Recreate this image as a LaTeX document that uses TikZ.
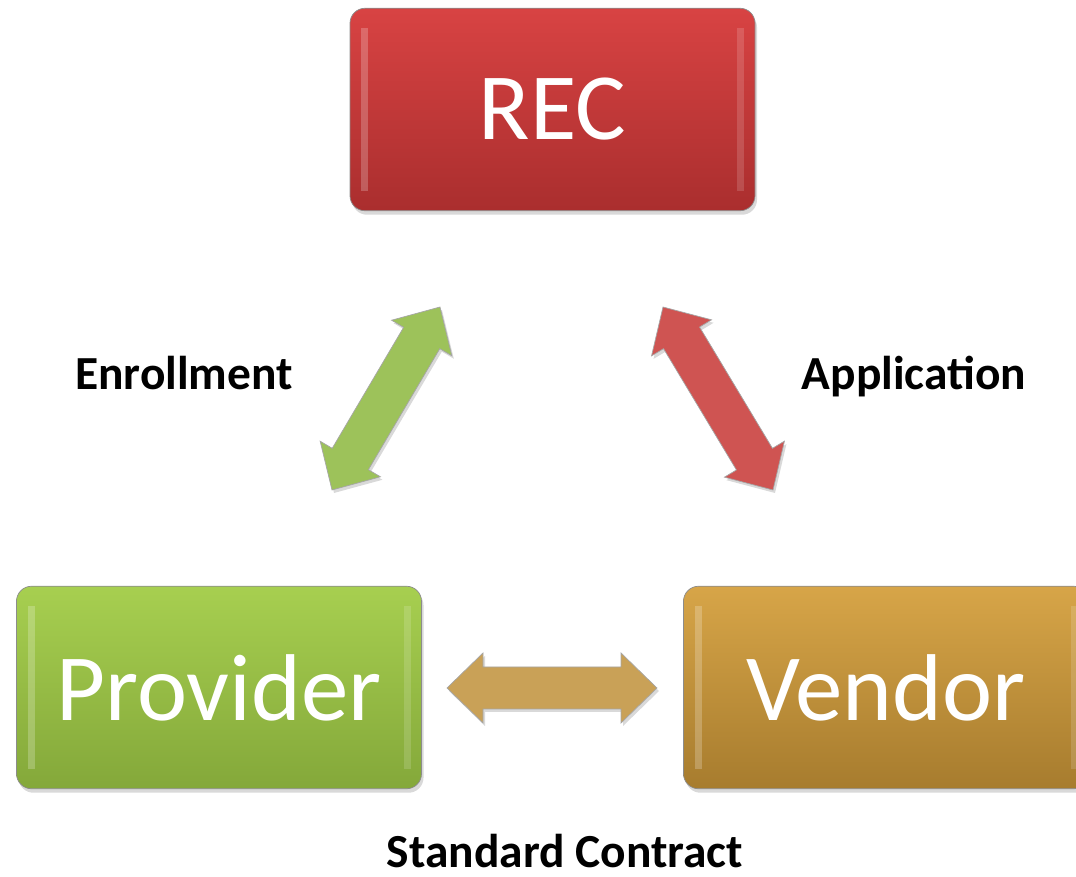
\documentclass[tikz,border=0pt]{standalone}
\usepackage{fontspec}
\setmainfont{Carlito}
\usetikzlibrary{calc,shadows}

\definecolor{recTop}{HTML}{D84343}
\definecolor{recBot}{HTML}{AA2E2E}
\definecolor{provTop}{HTML}{A7CF50}
\definecolor{provBot}{HTML}{84A83A}
\definecolor{vendTop}{HTML}{D7A548}
\definecolor{vendBot}{HTML}{A77C2E}
\definecolor{enrollArr}{HTML}{9DC25A}
\definecolor{applArr}{HTML}{CF5452}
\definecolor{contrArr}{HTML}{C9A157}

\tikzset{
  box/.style={rounded corners=0.3cm, minimum width=8.1cm, minimum height=4.05cm,
    draw=black!45, thin, text=white, font=\fontsize{54}{60}\selectfont,
    drop shadow={opacity=0.3, shadow xshift=0.04cm, shadow yshift=-0.08cm},
    path picture={
      \fill[white, opacity=0.22, sharp corners] ([xshift=0.22cm,yshift=-0.4cm]path picture bounding box.north west) rectangle ++(0.14,-3.25);
      \fill[white, opacity=0.15, sharp corners] ([xshift=-0.22cm,yshift=-0.4cm]path picture bounding box.north east) rectangle ++(-0.14,-3.25);
    }},
  lab/.style={font=\bfseries\fontsize{27}{30}\selectfont, anchor=base},
  dblarrow/.style={draw=black!35, thin,
    drop shadow={opacity=0.3, shadow xshift=0.04cm, shadow yshift=-0.06cm},
    to path={
      (\tikztostart)
      -- ($(\tikztostart)!0.72cm!(\tikztotarget)!0.7cm!90:(\tikztotarget)$)
      -- ($(\tikztostart)!0.72cm!(\tikztotarget)!0.42cm!90:(\tikztotarget)$)
      -- ($(\tikztotarget)!0.72cm!(\tikztostart)!0.42cm!-90:(\tikztostart)$)
      -- ($(\tikztotarget)!0.72cm!(\tikztostart)!0.7cm!-90:(\tikztostart)$)
      -- (\tikztotarget)
      -- ($(\tikztotarget)!0.72cm!(\tikztostart)!0.7cm!90:(\tikztostart)$)
      -- ($(\tikztotarget)!0.72cm!(\tikztostart)!0.42cm!90:(\tikztostart)$)
      -- ($(\tikztostart)!0.72cm!(\tikztotarget)!0.42cm!-90:(\tikztotarget)$)
      -- ($(\tikztostart)!0.72cm!(\tikztotarget)!0.7cm!-90:(\tikztotarget)$)
      -- cycle}}
}

\begin{document}
\begin{tikzpicture}
    \clip (0,0) rectangle (21.52,17.54);

    % Boxes
    \node[box, top color=recTop, bottom color=recBot] (rec) at (11.05,15.35) {REC};
    \node[box, top color=provTop, bottom color=provBot] (prov) at (4.38,3.79) {Provider};
    \node[box, top color=vendTop, bottom color=vendBot] (vend) at (17.72,3.79) {Vendor};

    % Arrow ends
    \coordinate (enrollA) at (6.64,7.74);
    \coordinate (enrollB) at (8.80,11.40);
    \coordinate (applA) at (13.26,11.40);
    \coordinate (applB) at (15.46,7.74);
    \coordinate (contrA) at (8.94,3.78);
    \coordinate (contrB) at (13.14,3.78);

    % Double arrows
    \draw[dblarrow, fill=enrollArr] (enrollA) to (enrollB);
    \draw[dblarrow, fill=applArr] (applA) to (applB);
    \draw[dblarrow, fill=contrArr] (contrA) to (contrB);

    % Labels
    \node[lab] (enroll) at (3.68,9.74) {Enrollment};
    \node[lab] (appl) at (18.28,9.74) {Application};
    \node[lab] (contr) at (11.30,0.20) {Standard Contract};
\end{tikzpicture}
\end{document}
